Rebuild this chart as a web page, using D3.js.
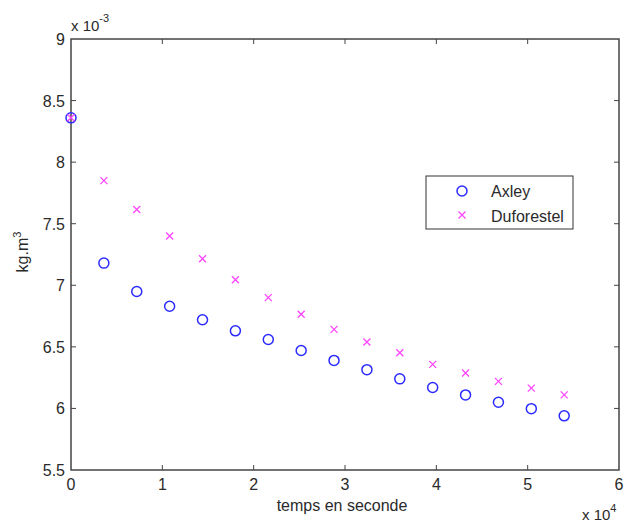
<!DOCTYPE html>
<meta charset="utf-8">
<style>
  body { margin: 0; background: #fff; }
  text { font-family: "Liberation Sans", Arial, sans-serif; fill: #2a2a2a; }
</style>
<body>
<script src="https://cdn.jsdelivr.net/npm/d3@7/dist/d3.min.js"></script>
<script>

// time in seconds, values in kg.m3 (x 10^-3)
var times = [0, 3600, 7200, 10800, 14400, 18000, 21600, 25200, 28800, 32400, 36000, 39600, 43200, 46800, 50400, 54000];
var axley = [8.36, 7.18, 6.95, 6.83, 6.72, 6.63, 6.56, 6.47, 6.39, 6.315, 6.24, 6.17, 6.11, 6.05, 5.998, 5.94];
var duforestel = [8.36, 7.85, 7.615, 7.40, 7.215, 7.045, 6.90, 6.765, 6.642, 6.539, 6.452, 6.358, 6.288, 6.22, 6.165, 6.11];
var xTicks = [0, 1, 2, 3, 4, 5, 6];
var yTicks = [5.5, 6, 6.5, 7, 7.5, 8, 8.5, 9];
var seriesNames = ["Axley", "Duforestel"];

var width = 641, height = 522;
var plotLeft = 71, plotRight = 619, plotTop = 39, plotBottom = 470;

var svg = d3.select("body").append("svg")
    .attr("width", width)
    .attr("height", height);

var x = d3.scaleLinear().domain([0, 6]).range([plotLeft, plotRight]);
var y = d3.scaleLinear().domain([5.5, 9]).range([plotBottom, plotTop]);

var axisColor = "#444";

// frame
svg.append("rect")
    .attr("x", plotLeft).attr("y", plotTop)
    .attr("width", plotRight - plotLeft).attr("height", plotBottom - plotTop)
    .attr("fill", "none").attr("stroke", axisColor).attr("stroke-width", 1.5);

// ticks (inward, all four sides)
var tickLen = 5;
svg.append("g").selectAll("line").data(xTicks.slice(1, -1))
  .enter().append("line")
    .attr("x1", d => x(d)).attr("x2", d => x(d))
    .attr("y1", plotBottom).attr("y2", plotBottom - tickLen)
    .attr("stroke", axisColor);
svg.append("g").selectAll("line").data(xTicks.slice(1, -1))
  .enter().append("line")
    .attr("x1", d => x(d)).attr("x2", d => x(d))
    .attr("y1", plotTop).attr("y2", plotTop + tickLen)
    .attr("stroke", axisColor);
svg.append("g").selectAll("line").data(yTicks.slice(1, -1))
  .enter().append("line")
    .attr("x1", plotLeft).attr("x2", plotLeft + tickLen)
    .attr("y1", d => y(d)).attr("y2", d => y(d))
    .attr("stroke", axisColor);
svg.append("g").selectAll("line").data(yTicks.slice(1, -1))
  .enter().append("line")
    .attr("x1", plotRight).attr("x2", plotRight - tickLen)
    .attr("y1", d => y(d)).attr("y2", d => y(d))
    .attr("stroke", axisColor);

// tick labels
svg.append("g").selectAll("text").data(xTicks)
  .enter().append("text")
    .attr("x", d => x(d))
    .attr("y", plotBottom + 20)
    .attr("text-anchor", "middle")
    .style("font-size", "16px")
    .text(d => d);
svg.append("g").selectAll("text").data(yTicks)
  .enter().append("text")
    .attr("x", plotLeft - 6)
    .attr("y", d => y(d) + 6)
    .attr("text-anchor", "end")
    .style("font-size", "16px")
    .text(d => d);

// exponent labels
var expY = svg.append("text")
    .attr("x", plotLeft).attr("y", 31)
    .style("font-size", "15px");
expY.append("tspan").text("x 10");
expY.append("tspan").attr("dy", -9).style("font-size", "11px").text("-3");

var expX = svg.append("text")
    .attr("x", 582).attr("y", 520)
    .style("font-size", "15px");
expX.append("tspan").text("x 10");
expX.append("tspan").attr("dy", -8).style("font-size", "11px").text("4");

// axis titles
svg.append("text")
    .attr("x", (plotLeft + plotRight) / 2 - 3)
    .attr("y", 511)
    .attr("text-anchor", "middle")
    .style("font-size", "16px")
    .text("temps en seconde");

var yTitle = svg.append("text")
    .attr("transform", "translate(28,252) rotate(-90)")
    .attr("text-anchor", "middle")
    .style("font-size", "16px");
yTitle.append("tspan").text("kg.m");
yTitle.append("tspan").attr("dy", -7).style("font-size", "11px").text("3");

// data
var blue = "#2b2bff", magenta = "#ff44ff";

function cross(g, cx, cy, s) {
  g.append("path")
      .attr("d", `M${cx - s},${cy - s}L${cx + s},${cy + s}M${cx - s},${cy + s}L${cx + s},${cy - s}`)
      .attr("stroke", magenta).attr("stroke-width", 1.3).attr("fill", "none");
}

svg.append("g").selectAll("circle").data(axley)
  .enter().append("circle")
    .attr("cx", (d, i) => x(times[i] / 1e4))
    .attr("cy", d => y(d))
    .attr("r", 5)
    .attr("fill", "none")
    .attr("stroke", blue)
    .attr("stroke-width", 1.5);

var crosses = svg.append("g");
duforestel.forEach(function(d, i) {
  cross(crosses, x(times[i] / 1e4), y(d), 3.5);
});

// legend
var legend = svg.append("g");
legend.append("rect")
    .attr("x", 426).attr("y", 176)
    .attr("width", 147).attr("height", 53)
    .attr("fill", "#fff").attr("stroke", "#333").attr("stroke-width", 1);
legend.append("circle")
    .attr("cx", 462).attr("cy", 191).attr("r", 5)
    .attr("fill", "none").attr("stroke", blue).attr("stroke-width", 1.5);
cross(legend, 462, 215, 3.5);
legend.selectAll("text.lab").data(seriesNames)
  .enter().append("text")
    .attr("class", "lab")
    .attr("x", 491)
    .attr("y", (d, i) => 197 + i * 25)
    .style("font-size", "16px")
    .text(d => d);

</script>
</body>
